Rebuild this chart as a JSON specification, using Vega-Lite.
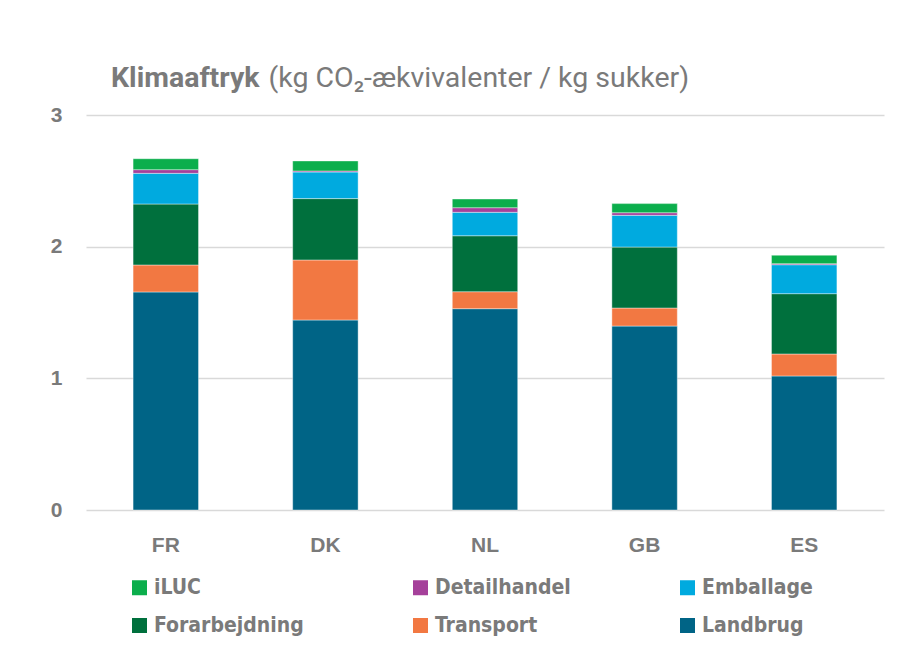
{
  "$schema": "https://vega.github.io/schema/vega-lite/v6.json",
  "width": 798,
  "height": 395,
  "autosize": {"type": "none"},
  "padding": {"left": 86, "top": 115, "right": 32, "bottom": 156},
  "background": "white",
  "title": {
    "text": "Klimaaftryk",
    "anchor": "start",
    "frame": "group",
    "dx": 25,
    "offset": -29,
    "fontSize": 28.5,
    "fontWeight": "bold",
    "font": "Roboto",
    "color": "#7a7a7a"
  },
  "data": {
    "values": [
      {"land": "FR", "kategori": "Landbrug", "rang": 1, "vaerdi": 1.656},
      {"land": "FR", "kategori": "Transport", "rang": 2, "vaerdi": 0.205},
      {"land": "FR", "kategori": "Forarbejdning", "rang": 3, "vaerdi": 0.463},
      {"land": "FR", "kategori": "Emballage", "rang": 4, "vaerdi": 0.233},
      {"land": "FR", "kategori": "Detailhandel", "rang": 5, "vaerdi": 0.028},
      {"land": "FR", "kategori": "iLUC", "rang": 6, "vaerdi": 0.083},
      {"land": "DK", "kategori": "Landbrug", "rang": 1, "vaerdi": 1.443},
      {"land": "DK", "kategori": "Transport", "rang": 2, "vaerdi": 0.456},
      {"land": "DK", "kategori": "Forarbejdning", "rang": 3, "vaerdi": 0.466},
      {"land": "DK", "kategori": "Emballage", "rang": 4, "vaerdi": 0.202},
      {"land": "DK", "kategori": "Detailhandel", "rang": 5, "vaerdi": 0.008},
      {"land": "DK", "kategori": "iLUC", "rang": 6, "vaerdi": 0.076},
      {"land": "NL", "kategori": "Landbrug", "rang": 1, "vaerdi": 1.529},
      {"land": "NL", "kategori": "Transport", "rang": 2, "vaerdi": 0.129},
      {"land": "NL", "kategori": "Forarbejdning", "rang": 3, "vaerdi": 0.425},
      {"land": "NL", "kategori": "Emballage", "rang": 4, "vaerdi": 0.178},
      {"land": "NL", "kategori": "Detailhandel", "rang": 5, "vaerdi": 0.035},
      {"land": "NL", "kategori": "iLUC", "rang": 6, "vaerdi": 0.066},
      {"land": "GB", "kategori": "Landbrug", "rang": 1, "vaerdi": 1.397},
      {"land": "GB", "kategori": "Transport", "rang": 2, "vaerdi": 0.137},
      {"land": "GB", "kategori": "Forarbejdning", "rang": 3, "vaerdi": 0.463},
      {"land": "GB", "kategori": "Emballage", "rang": 4, "vaerdi": 0.241},
      {"land": "GB", "kategori": "Detailhandel", "rang": 5, "vaerdi": 0.02},
      {"land": "GB", "kategori": "iLUC", "rang": 6, "vaerdi": 0.069},
      {"land": "ES", "kategori": "Landbrug", "rang": 1, "vaerdi": 1.018},
      {"land": "ES", "kategori": "Transport", "rang": 2, "vaerdi": 0.167},
      {"land": "ES", "kategori": "Forarbejdning", "rang": 3, "vaerdi": 0.458},
      {"land": "ES", "kategori": "Emballage", "rang": 4, "vaerdi": 0.22},
      {"land": "ES", "kategori": "Detailhandel", "rang": 5, "vaerdi": 0.008},
      {"land": "ES", "kategori": "iLUC", "rang": 6, "vaerdi": 0.064}
    ]
  },
  "mark": {"type": "bar", "stroke": "#ffffff", "strokeWidth": 0.8, "strokeOpacity": 0.5},
  "encoding": {
    "x": {
      "field": "land",
      "type": "nominal",
      "sort": ["FR", "DK", "NL", "GB", "ES"],
      "scale": {"paddingInner": 0.59, "paddingOuter": 0.295},
      "axis": {
        "title": null,
        "domain": false,
        "ticks": false,
        "labelAngle": 0,
        "labelPadding": 24,
        "labelFontSize": 21,
        "labelFontWeight": "bold",
        "labelFont": "Liberation Sans",
        "labelColor": "#7a7a7a"
      }
    },
    "y": {
      "field": "vaerdi",
      "type": "quantitative",
      "stack": "zero",
      "scale": {"domain": [0, 3], "nice": false},
      "axis": {
        "values": [0, 1, 2, 3],
        "title": "(kg CO₂-ækvivalenter / kg sukker)",
        "titleAngle": 0,
        "titleAlign": "left",
        "titleBaseline": "alphabetic",
        "titleX": 182,
        "titleY": -29,
        "titleFontSize": 28.5,
        "titleFontWeight": "normal",
        "titleFont": "Roboto",
        "titleColor": "#7a7a7a",
        "domain": false,
        "ticks": false,
        "labelPadding": 24,
        "labelFontSize": 21,
        "labelFontWeight": "bold",
        "labelFont": "Liberation Sans",
        "labelColor": "#7a7a7a",
        "gridColor": "#d9d9d9",
        "gridWidth": 1.5
      }
    },
    "color": {
      "field": "kategori",
      "type": "nominal",
      "scale": {
        "domain": ["iLUC", "Detailhandel", "Emballage", "Forarbejdning", "Transport", "Landbrug"],
        "range": ["#0BAE4C", "#A5409A", "#00AADF", "#00703D", "#F27842", "#006486"]
      },
      "legend": {
        "title": null,
        "orient": "none",
        "legendX": 43,
        "legendY": 462,
        "direction": "horizontal",
        "columns": 3,
        "columnPadding": 106,
        "rowPadding": 16,
        "symbolType": "square",
        "symbolSize": 225,
        "symbolStrokeWidth": 0,
        "symbolOpacity": 1,
        "labelFontSize": 21,
        "labelFontWeight": "bold",
        "labelFont": "DejaVu Sans Condensed, Roboto, sans-serif",
        "labelColor": "#7a7a7a",
        "labelOffset": 4,
        "labelLimit": 300
      }
    },
    "order": {"field": "rang", "type": "quantitative", "sort": "ascending"}
  },
  "config": {
    "view": {"stroke": null}
  }
}
